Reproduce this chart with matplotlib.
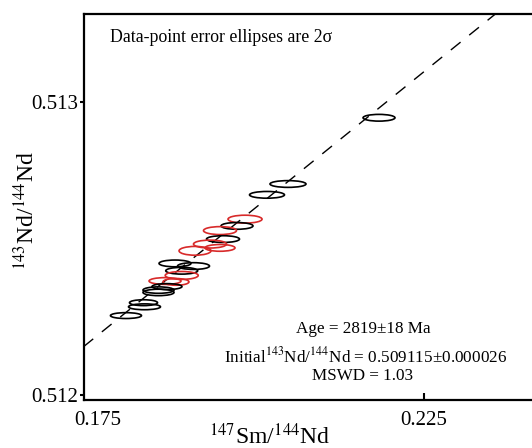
import matplotlib
matplotlib.use("Agg")
import matplotlib.pyplot as plt
import matplotlib.patches as patches
import numpy as np

plt.rcParams['font.family'] = ['Liberation Serif', 'DejaVu Serif']
plt.rcParams['mathtext.fontset'] = 'stix'

# 147Sm/144Nd, 143Nd/144Nd, 2-sigma half axes, group
sm_nd = [0.21810, 0.20414, 0.20092, 0.19755, 0.19632, 0.19371, 0.19417, 0.19218,
         0.19371, 0.18988, 0.18681, 0.18965, 0.18784, 0.18784, 0.18528, 0.18696,
         0.18558, 0.18428, 0.18428, 0.18198, 0.18213, 0.17929]
nd_nd = [0.512946, 0.512720, 0.512683, 0.512600, 0.512577, 0.512561, 0.512532, 0.512515,
         0.512502, 0.512492, 0.512449, 0.512440, 0.512424, 0.512408, 0.512389, 0.512386,
         0.512370, 0.512358, 0.512350, 0.512315, 0.512301, 0.512271]
err_x = [0.00245, 0.00276, 0.00268, 0.00261, 0.00245, 0.00253, 0.00253, 0.00253,
         0.00230, 0.00245, 0.00245, 0.00245, 0.00245, 0.00253, 0.00245, 0.00199,
         0.00230, 0.00238, 0.00238, 0.00215, 0.00245, 0.00238]
err_y = [0.0000115, 0.0000115, 0.0000115, 0.0000135, 0.0000115, 0.0000135, 0.0000115, 0.0000135,
         0.0000115, 0.0000150, 0.0000115, 0.0000115, 0.0000115, 0.0000135, 0.0000115, 0.0000115,
         0.0000100, 0.0000110, 0.0000110, 0.0000100, 0.0000100, 0.0000100]
group = ['k', 'k', 'k', 'r', 'k', 'r', 'k', 'r', 'r', 'r', 'k', 'k', 'k', 'r', 'r', 'r',
         'k', 'k', 'k', 'k', 'k', 'k']

# isochron
intercept = 0.50906
slope = 0.01797

xlim = (0.172776, 0.242791)
ylim = (0.511983, 0.513300)

colors = {'k': 'black', 'r': '#d82a2a'}

fig = plt.figure(figsize=(5.32, 4.48), dpi=100)
ax = fig.add_axes([83.5 / 532, 48 / 448, (540 - 83.5) / 532, 386 / 448])

xs = np.array(xlim)
ax.plot(xs, intercept + slope * xs, color='black', lw=1.0, dashes=(9, 8), zorder=1)

for x, y, ex, ey, g in zip(sm_nd, nd_nd, err_x, err_y, group):
    e = patches.Ellipse((x, y), 2 * ex, 2 * ey, fill=False,
                        edgecolor=colors[g], lw=1.2, zorder=2)
    ax.add_patch(e)

ax.set_xlim(*xlim)
ax.set_ylim(*ylim)

ax.set_xticks([0.175, 0.225])
ax.set_xticklabels(['0.175', '0.225'])
ax.set_yticks([0.512, 0.513])
ax.set_yticklabels(['0.512', '0.513'])
ax.tick_params(axis='x', direction='in', length=5, width=1.5, labelsize=15, pad=8)
ax.tick_params(axis='y', direction='out', length=3, width=1.5, labelsize=15, pad=1)
ax.xaxis.get_major_ticks()[0].tick1line.set_visible(False)
for s in ax.spines.values():
    s.set_linewidth(1.6)

ax.set_ylabel(r'$^{143}$Nd/$^{144}$Nd', fontsize=17)
ax.yaxis.set_label_coords(-0.098, 0.49)
fig.text(270 / 532, 1 - 436 / 448, r'$^{147}$Sm/$^{144}$Nd', fontsize=17,
         ha='center', va='center')

fig.text(110 / 532, 1 - 38 / 448, 'Data-point error ellipses are 2σ', fontsize=12.8,
         ha='left', va='center')
fig.text(363 / 532, 1 - 329 / 448, 'Age = 2819±18 Ma', fontsize=12.3, ha='center', va='center')
fig.text(366 / 532, 1 - 356 / 448, r'Initial$^{143}$Nd/$^{144}$Nd = 0.509115±0.000026',
         fontsize=12.3, ha='center', va='center')
fig.text(363 / 532, 1 - 376 / 448, 'MSWD = 1.03', fontsize=12.3, ha='center', va='center')

fig.savefig('out.png', dpi=100)
